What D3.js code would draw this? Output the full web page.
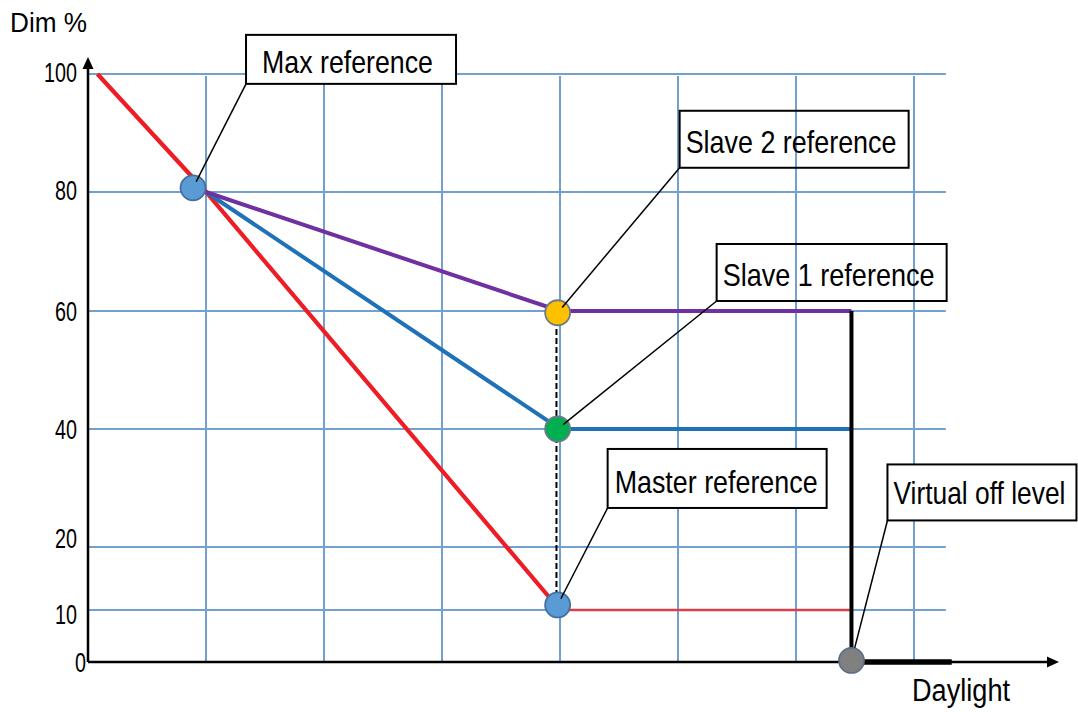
<!DOCTYPE html>
<html><head><meta charset="utf-8">
<script src="https://cdn.jsdelivr.net/npm/d3@7"></script>
<style>
body{margin:0;background:#fff}
svg{display:block}
text{font-family:"Liberation Sans",Arial,sans-serif;fill:#000}
</style>
</head><body>
<svg id="c" width="1078" height="712"></svg>
<script>
// ---- data ----
const yTicks = [0, 10, 20, 40, 60, 80, 100];
const xGrid = [1, 2, 3, 4, 5, 6, 7];
const yTitle = "Dim %";
const xTitle = "Daylight";
// daylight (grid units) -> dim %
const redX = [0.08, 1, 4, 6.47];
const redY = [100, 80, 10, 10];
const purpleX = [1, 4, 6.47];
const purpleY = [80, 60, 60];
const blueX = [1, 4, 6.47];
const blueY = [80, 40, 40];
const offX = [6.47, 6.47];
const offY = [60, 0];
const floorX = [6.47, 7.32];
const floorY = [0, 0];
const dashX = [3.97, 3.97];
const dashY = [60, 10];
const pointNames = ["Max reference", "Slave 2 reference", "Slave 1 reference", "Master reference", "Virtual off level"];
const pointX = [0.89, 3.98, 3.98, 3.98, 6.47];
const pointY = [80.7, 59.7, 40, 10.8, 0.3];
const pointColors = ["#5b9bd5", "#ffc000", "#00b050", "#5b9bd5", "#808080"];

// ---- layout ----
const svg = d3.select("#c");
const x = d3.scaleLinear().domain([0, 8]).range([88, 1032]);
const y = d3.scaleLinear().domain(yTicks).range([662, 610, 547, 429, 311, 192, 74]);
const gridRight = 7.27;
const gridColor = "#72a1d0";

// grid
const grid = svg.append("g");
grid.selectAll(".h").data(yTicks.filter(d => d > 0)).join("line")
  .attr("x1", x(0)).attr("x2", x(gridRight))
  .attr("y1", d => y(d)).attr("y2", d => y(d))
  .attr("stroke", gridColor).attr("stroke-width", 2);
grid.selectAll(".v").data(xGrid).join("line")
  .attr("x1", d => x(d)).attr("x2", d => x(d))
  .attr("y1", y(100) + 2).attr("y2", y(0))
  .attr("stroke", gridColor).attr("stroke-width", 2);

// axes
const ax = svg.append("g");
ax.append("line").attr("x1", x(0)).attr("x2", 1050).attr("y1", y(0)).attr("y2", y(0))
  .attr("stroke", "#000").attr("stroke-width", 2.5);
ax.append("path").attr("d", `M1059,${y(0)} L1047,${y(0)-5.5} L1047,${y(0)+5.5} Z`).attr("fill", "#000");
ax.append("line").attr("x1", x(0)).attr("x2", x(0)).attr("y1", y(0)).attr("y2", 66)
  .attr("stroke", "#000").attr("stroke-width", 2.5);
ax.append("path").attr("d", `M${x(0)},57 L${x(0)-5.5},69 L${x(0)+5.5},69 Z`).attr("fill", "#000");

const yAxis = svg.append("g").attr("transform", `translate(${x(0)},0)`)
  .call(d3.axisLeft(y).tickValues(yTicks).tickSize(0).tickFormat(d3.format("d")));
yAxis.select(".domain").remove();
const labelDy = {0: 0, 10: 4, 20: -9, 40: 0, 60: 0, 80: -2, 100: -2};
yAxis.selectAll(".tick text").each(function(d) {
  const t = d3.select(this);
  t.attr("font-size", 25).attr("font-family", "Liberation Sans, Arial, sans-serif").attr("fill", "#111");
  const w = this.getComputedTextLength() * 0.79;
  const pad = d === 0 ? 2 : 11;
  t.attr("font-size", 27).attr("text-anchor", "start").attr("x", -pad - w).attr("textLength", w)
   .attr("lengthAdjust", "spacingAndGlyphs").attr("dy", "0.35em")
   .attr("y", labelDy[d]);
});

svg.append("text").attr("x", 10).attr("y", 32).attr("font-size", 27)
  .attr("textLength", 77).attr("lengthAdjust", "spacingAndGlyphs").text(yTitle);
svg.append("text").attr("x", 912).attr("y", 701).attr("font-size", 31)
  .attr("textLength", 98).attr("lengthAdjust", "spacingAndGlyphs").text(xTitle);

// series
const line = d3.line().x(d => x(d[0])).y(d => y(d[1]));
const zip = (a, b) => a.map((v, i) => [v, b[i]]);
const s = svg.append("g").attr("fill", "none");
s.append("path").attr("d", line(zip(redX.slice(2), redY.slice(2))))
  .attr("stroke", "#d8404e").attr("stroke-width", 2.4);
s.append("path").attr("d", line(zip(redX.slice(0, 3), redY.slice(0, 3))))
  .attr("stroke", "#ee1c25").attr("stroke-width", 4.2);
s.append("path").attr("d", line(zip(blueX, blueY)))
  .attr("stroke", "#1f72b8").attr("stroke-width", 4);
s.append("path").attr("d", line(zip(purpleX, purpleY)))
  .attr("stroke", "#7030a0").attr("stroke-width", 4);
s.append("path").attr("d", line(zip(dashX, dashY)))
  .attr("stroke", "#000").attr("stroke-width", 2).attr("stroke-dasharray", "6,3");
s.append("path").attr("d", line(zip(offX, offY)))
  .attr("stroke", "#000").attr("stroke-width", 4);
s.append("path").attr("d", line(zip(floorX, floorY)))
  .attr("stroke", "#000").attr("stroke-width", 5.5);

// points
const pts = pointNames.map((n, i) => ({name: n, cx: x(pointX[i]), cy: y(pointY[i]), color: pointColors[i]}));
svg.append("g").selectAll("circle").data(pts).join("circle")
  .attr("cx", d => d.cx).attr("cy", d => d.cy).attr("r", 12.5)
  .attr("fill", d => d.color)
  .attr("stroke", d => d.color === "#808080" ? "#5f7086" : (d.color === "#5b9bd5" ? "#41719c" : "#6b7a88"))
  .attr("stroke-width", 1.8);

// callouts (box offsets from point, in px)
const boxes = [
  {dx: 53, dy: -153, w: 210, h: 49, tx: 16, ty: 38, tw: 171, fill: "#fff"},
  {dx: 122, dy: -202, w: 229, h: 57, tx: 6, ty: 42, tw: 211, fill: "none"},
  {dx: 159, dy: -185, w: 230, h: 57, tx: 6, ty: 42, tw: 212, fill: "none"},
  {dx: 50, dy: -156, w: 219, h: 59, tx: 7, ty: 44, tw: 203, fill: "#fff"},
  {dx: 36, dy: -196, w: 189, h: 56, tx: 6, ty: 40, tw: 172, fill: "#fff"}
];
const ann = svg.append("g");
pts.forEach((p, i) => {
  const b = boxes[i];
  const bx = p.cx + b.dx, by = p.cy + b.dy;
  const cornerX = bx, cornerY = by + b.h;
  const vx = cornerX - p.cx, vy = cornerY - p.cy, L = Math.hypot(vx, vy);
  const k = i === 4 ? 13 : 7;
  ann.append("rect").attr("x", bx).attr("y", by).attr("width", b.w).attr("height", b.h)
    .attr("fill", b.fill).attr("stroke", "#000").attr("stroke-width", 2);
  // condensed look: font sized to fit width, stretched vertically
  const t = ann.append("text").attr("font-size", 32).text(p.name);
  const natural = t.node().getComputedTextLength();
  const fs = 32 * b.tw / natural;
  t.attr("font-size", fs)
   .attr("transform", `translate(${bx + b.tx},${by + b.ty}) scale(1,${32 / fs})`);
  ann.append("line").attr("x1", cornerX).attr("y1", cornerY)
    .attr("x2", p.cx + vx / L * k).attr("y2", p.cy + vy / L * k)
    .attr("stroke", "#000").attr("stroke-width", 1.5);
});
</script>
</body></html>
